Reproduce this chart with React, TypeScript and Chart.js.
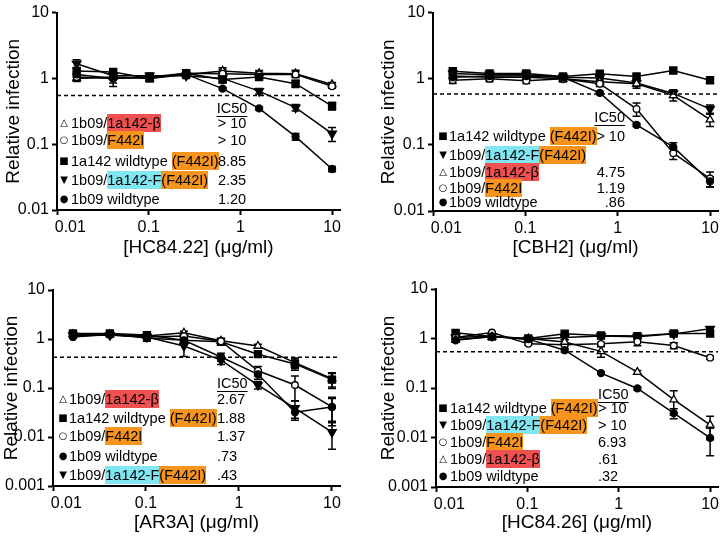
import React, { useEffect, useRef } from 'react';
import { Chart, registerables } from 'chart.js';

Chart.register(...registerables);

// ---------- data ----------
const doses = [0.016384, 0.04096, 0.1024, 0.256, 0.64, 1.6, 4, 10];
const xTickValues = [0.01, 0.1, 1, 10];
const yTicksA = [0.01, 0.1, 1, 10];
const yTicksB = [0.001, 0.01, 0.1, 1, 10];
const xMin = 0.01;
const xMax = 12.2;
const thresholds = [0.55, 0.59, 0.425, 0.54];
const xTitles = ['[HC84.22] (μg/ml)', '[CBH2] (μg/ml)', '[AR3A] (μg/ml)', '[HC84.26] (μg/ml)'];

// Panel 1: HC84.22
const hc8422Beta = [1.0, 1.05, 1.0, 1.15, 1.3, 1.2, 1.18, 0.81];
const hc8422BetaErr = [0.1, 0.1, 0.08, 0.1, 0.15, 0.12, 0.15, 0.06];
const hc8422F442i = [1.05, 1.0, 1.05, 1.2, 1.18, 1.15, 1.15, 0.76];
const hc8422F442iErr = [0.1, 0.15, 0.15, 0.1, 0.2, 0.15, 0.12, 0.05];
const hc8422Wt1a142 = [1.3, 1.25, 1.0, 1.2, 0.96, 1.05, 0.83, 0.38];
const hc8422Wt1a142Err = [0.15, 0.1, 0.1, 0.1, 0.1, 0.1, 0.1, 0.05];
const hc8422FF442i = [1.67, 1.1, 1.1, 1.1, 1.0, 0.64, 0.36, 0.145];
const hc8422FF442iErr = [0.25, 0.1, 0.1, 0.1, 0.1, 0.06, 0.04, 0.035];
const hc8422Wt1b09 = [1.15, 1.0, 1.05, 1.15, 0.7, 0.35, 0.13, 0.042];
const hc8422Wt1b09Err = [0.1, 0.25, 0.1, 0.1, 0.03, 0.02, 0.015, 0.004];
const hc8422Order = ['beta', 'f442i', 'wt1a142', 'fF442i', 'wt1b09'];
const hc8422Ic50 = ['> 10', '> 10', '8.85', '2.35', '1.20'];

// Panel 2: CBH2
const cbh2Wt1a142 = [1.3, 1.2, 1.2, 1.08, 1.19, 1.08, 1.33, 0.95];
const cbh2Wt1a142Err = [0.12, 0.08, 0.1, 0.08, 0.1, 0.08, 0.12, 0.04];
const cbh2FF442i = [1.2, 1.15, 1.15, 1.05, 1.03, 0.86, 0.6, 0.35];
const cbh2FF442iErr = [0.1, 0.1, 0.1, 0.1, 0.1, 0.1, 0.08, 0.05];
const cbh2Beta = [1.1, 1.05, 1.05, 1.0, 0.9, 0.84, 0.56, 0.24];
const cbh2BetaErr = [0.1, 0.1, 0.1, 0.1, 0.08, 0.12, 0.1, 0.05];
const cbh2F442i = [0.95, 1.0, 0.93, 1.0, 0.84, 0.35, 0.075, 0.031];
const cbh2F442iErr = [0.1, 0.1, 0.08, 0.1, 0.08, 0.08, 0.015, 0.008];
const cbh2Wt1b09 = [1.05, 1.1, 1.1, 1.05, 0.61, 0.2, 0.093, 0.028];
const cbh2Wt1b09Err = [0.08, 0.1, 0.08, 0.08, 0.03, 0.01, 0.015, 0.005];
const cbh2Order = ['wt1a142', 'fF442i', 'beta', 'f442i', 'wt1b09'];
const cbh2Ic50 = ['> 10', '', '4.75', '1.19', '.86'];

// Panel 3: AR3A
const ar3aBeta = [1.25, 1.25, 1.15, 1.34, 0.92, 0.72, 0.33, 0.155];
const ar3aBetaErr = [0.08, 0.08, 0.1, 0.1, 0.1, 0.06, 0.08, 0.05];
const ar3aWt1a142 = [1.3, 1.3, 1.2, 0.94, 0.88, 0.49, 0.31, 0.148];
const ar3aWt1a142Err = [0.1, 0.08, 0.1, 0.1, 0.1, 0.05, 0.08, 0.05];
const ar3aF442i = [1.15, 1.2, 1.1, 1.15, 0.9, 0.225, 0.115, 0.041];
const ar3aF442iErr = [0.08, 0.08, 0.1, 0.12, 0.1, 0.05, 0.06, 0.024];
const ar3aWt1b09 = [1.1, 1.25, 1.05, 0.94, 0.43, 0.19, 0.032, 0.041];
const ar3aWt1b09Err = [0.08, 0.08, 0.15, 0.1, 0.08, 0.04, 0.01, 0.02];
const ar3aFF442i = [1.2, 1.2, 1.1, 0.72, 0.37, 0.115, 0.039, 0.0126];
const ar3aFF442iErr = [0.08, 0.08, 0.15, 0.28, 0.07, 0.02, 0.015, 0.007];
const ar3aOrder = ['beta', 'wt1a142', 'f442i', 'wt1b09', 'fF442i'];
const ar3aIc50 = ['2.67', '1.88', '1.37', '.73', '.43'];

// Panel 4: HC84.26
const hc8426Wt1a142 = [1.3, 1.1, 1.0, 1.25, 1.15, 1.12, 1.26, 1.26];
const hc8426Wt1a142Err = [0.12, 0.08, 0.08, 0.1, 0.08, 0.08, 0.1, 0.15];
const hc8426FF442i = [1.05, 1.12, 0.95, 1.05, 1.12, 1.08, 1.24, 1.57];
const hc8426FF442iErr = [0.08, 0.08, 0.08, 0.1, 0.1, 0.08, 0.1, 0.15];
const hc8426F442i = [1.05, 1.32, 0.78, 0.75, 0.78, 0.86, 0.72, 0.41];
const hc8426F442iErr = [0.08, 0.05, 0.05, 0.05, 0.05, 0.15, 0.1, 0.03];
const hc8426Beta = [0.95, 1.08, 1.0, 0.85, 0.55, 0.21, 0.058, 0.018];
const hc8426BetaErr = [0.08, 0.08, 0.08, 0.08, 0.13, 0.015, 0.03, 0.009];
const hc8426Wt1b09 = [0.92, 1.1, 0.97, 0.58, 0.2, 0.098, 0.031, 0.0098];
const hc8426Wt1b09Err = [0.08, 0.08, 0.08, 0.05, 0.01, 0.008, 0.007, 0.0055];
const hc8426Order = ['wt1a142', 'fF442i', 'f442i', 'beta', 'wt1b09'];
const hc8426Ic50 = ['> 10', '> 10', '6.93', '.61', '.32'];

// ---------- styles ----------
const FONT = "'Liberation Sans', Arial, Helvetica, sans-serif";
const RED = '#EF5050';
const ORANGE = '#F7941E';
const CYAN = '#80E6F2';
const PW = 363;
const PH = 273;

type Key = 'beta' | 'f442i' | 'wt1a142' | 'fF442i' | 'wt1b09';

const markers: Record<Key, any> = {
  beta: { style: 'triangle', rot: 0, filled: false, r: 4.5, glyph: '△' },
  f442i: { style: 'circle', rot: 0, filled: false, r: 3.3, glyph: '○' },
  wt1a142: { style: 'rect', rot: 0, filled: true, r: 5, glyph: '■' },
  fF442i: { style: 'triangle', rot: 180, filled: true, r: 5, glyph: '▼' },
  wt1b09: { style: 'circle', rot: 0, filled: true, r: 3.5, glyph: '●' },
};

const labels: Record<Key, { t: string; bg?: string }[]> = {
  beta: [{ t: '1b09/' }, { t: '1a142-β', bg: RED }],
  f442i: [{ t: '1b09/' }, { t: 'F442I', bg: ORANGE }],
  wt1a142: [{ t: '1a142 wildtype ' }, { t: '(F442I)', bg: ORANGE }],
  fF442i: [{ t: '1b09/' }, { t: '1a142-F', bg: CYAN }, { t: '(F442I)', bg: ORANGE }],
  wt1b09: [{ t: '1b09 wildtype' }],
};

const panels = [
  {
    series: {
      beta: [hc8422Beta, hc8422BetaErr], f442i: [hc8422F442i, hc8422F442iErr],
      wt1a142: [hc8422Wt1a142, hc8422Wt1a142Err], fF442i: [hc8422FF442i, hc8422FF442iErr],
      wt1b09: [hc8422Wt1b09, hc8422Wt1b09Err],
    },
    order: hc8422Order, ic50: hc8422Ic50, yTicks: yTicksA,
    geom: { left: 57, right: 340, top: 12, bottom: 210, yTitleC: 13.3, xTitleC: 248 },
    leg: { mx: 64, tx: 71, rows: [123, 140, 161, 180, 199], hy: 108, cx: 232, align: 'center' },
  },
  {
    series: {
      beta: [cbh2Beta, cbh2BetaErr], f442i: [cbh2F442i, cbh2F442iErr],
      wt1a142: [cbh2Wt1a142, cbh2Wt1a142Err], fF442i: [cbh2FF442i, cbh2FF442iErr],
      wt1b09: [cbh2Wt1b09, cbh2Wt1b09Err],
    },
    order: cbh2Order, ic50: cbh2Ic50, yTicks: yTicksA,
    geom: { left: 70, right: 355, top: 12, bottom: 211, yTitleC: 25.8, xTitleC: 248 },
    leg: { mx: 80, tx: 86, rows: [136, 155, 172, 188, 202], hy: 117, cx: 262, align: 'right' },
  },
  {
    series: {
      beta: [ar3aBeta, ar3aBetaErr], f442i: [ar3aF442i, ar3aF442iErr],
      wt1a142: [ar3aWt1a142, ar3aWt1a142Err], fF442i: [ar3aFF442i, ar3aFF442iErr],
      wt1b09: [ar3aWt1b09, ar3aWt1b09Err],
    },
    order: ar3aOrder, ic50: ar3aIc50, yTicks: yTicksB,
    geom: { left: 53, right: 340, top: 17, bottom: 213, yTitleC: 11.4, xTitleC: 250 },
    leg: { mx: 63, tx: 69, rows: [126, 145, 163, 183, 202], hy: 110, cx: 217, align: 'left' },
  },
  {
    series: {
      beta: [hc8426Beta, hc8426BetaErr], f442i: [hc8426F442i, hc8426F442iErr],
      wt1a142: [hc8426Wt1a142, hc8426Wt1a142Err], fF442i: [hc8426FF442i, hc8426FF442iErr],
      wt1b09: [hc8426Wt1b09, hc8426Wt1b09Err],
    },
    order: hc8426Order, ic50: hc8426Ic50, yTicks: yTicksB,
    geom: { left: 73, right: 355, top: 16, bottom: 214, yTitleC: 26, xTitleC: 250 },
    leg: { mx: 80, tx: 87, rows: [135, 152, 169, 186, 203], hy: 121, cx: 235, align: 'left' },
  },
];

const errorBarPlugin = {
  id: 'errorBars',
  beforeDatasetsDraw(chart: any) {
    const ctx = chart.ctx;
    const xs = chart.scales.x;
    const ys = chart.scales.y;
    ctx.save();
    ctx.strokeStyle = '#000';
    ctx.lineWidth = 1.5;
    chart.data.datasets.forEach((ds: any) => {
      const errs = ds.errors;
      if (!errs) return;
      ds.data.forEach((p: any, i: number) => {
        const e = errs[i];
        if (!e) return;
        const x = xs.getPixelForValue(p.x);
        const yT = ys.getPixelForValue(p.y + e);
        const yB = ys.getPixelForValue(Math.max(p.y - e, ys.min));
        ctx.beginPath();
        ctx.moveTo(x, yT);
        ctx.lineTo(x, yB);
        ctx.moveTo(x - 4, yT);
        ctx.lineTo(x + 4, yT);
        ctx.moveTo(x - 4, yB);
        ctx.lineTo(x + 4, yB);
        ctx.stroke();
      });
    });
    ctx.restore();
  },
};

function Panel({ idx }: { idx: number }) {
  const cfg: any = panels[idx];
  const ref = useRef<HTMLCanvasElement>(null);

  useEffect(() => {
    const g = cfg.geom;
    const datasets: any[] = [
      {
        data: [{ x: xMin, y: thresholds[idx] }, { x: xMax, y: thresholds[idx] }],
        borderColor: '#000',
        borderWidth: 1.5,
        borderDash: [4, 3],
        pointRadius: 0,
        fill: false,
      },
    ];
    (cfg.order as Key[]).slice().reverse().forEach((k) => {
      const m = markers[k];
      const [vals, errs] = cfg.series[k];
      datasets.push({
        data: doses.map((x, i) => ({ x, y: vals[i] })),
        errors: errs,
        borderColor: '#000',
        borderWidth: 1.5,
        pointStyle: m.style,
        rotation: m.rot,
        pointRotation: m.rot,
        pointRadius: m.r,
        pointBackgroundColor: m.filled ? '#000' : '#fff',
        pointBorderColor: '#000',
        pointBorderWidth: 1.3,
        fill: false,
        tension: 0,
        clip: false,
      });
    });
    const tickFont = { family: FONT, size: 16 };
    const titleFont = { family: FONT, size: 19 };
    const chart = new Chart(ref.current as HTMLCanvasElement, {
      type: 'line',
      data: { datasets },
      plugins: [errorBarPlugin],
      options: {
        animation: false,
        responsive: false,
        events: [],
        layout: { padding: { left: 0, top: g.top, right: PW - g.right, bottom: 0 } },
        plugins: { legend: { display: false }, tooltip: { enabled: false } },
        scales: {
          x: {
            type: 'logarithmic',
            min: xMin,
            max: xMax,
            afterBuildTicks: (s: any) => {
              s.ticks = xTickValues.map((v) => ({ value: v }));
            },
            afterFit: (s: any) => {
              s.height = PH - g.bottom;
            },
            grid: { drawOnChartArea: false, drawTicks: true, tickLength: 5, tickWidth: 2, tickColor: '#000' },
            border: { display: true, width: 2, color: '#000' },
            ticks: {
              color: '#000',
              font: tickFont,
              padding: 3,
              maxRotation: 0,
              autoSkip: false,
              callback: (v: any, i: number) => (i === 0 ? '      0.01' : String(xTickValues[i])),
            },
            title: {
              display: true,
              text: xTitles[idx],
              color: '#000',
              font: titleFont,
              padding: { top: 0, bottom: PH - g.xTitleC - 11.4 },
            },
          },
          y: {
            type: 'logarithmic',
            min: cfg.yTicks[0],
            max: 10,
            afterBuildTicks: (s: any) => {
              s.ticks = cfg.yTicks.map((v: number) => ({ value: v }));
            },
            afterFit: (s: any) => {
              s.width = g.left;
            },
            grid: { drawOnChartArea: false, drawTicks: true, tickLength: 5, tickWidth: 2, tickColor: '#000' },
            border: { display: true, width: 2, color: '#000' },
            ticks: {
              color: '#000',
              font: tickFont,
              padding: 3,
              autoSkip: false,
              callback: (v: any, i: number) => String(cfg.yTicks[i]),
            },
            title: {
              display: true,
              text: 'Relative infection',
              color: '#000',
              font: titleFont,
              padding: { top: Math.max(0, g.yTitleC - 11.4), bottom: 0 },
            },
          },
        },
      } as any,
    });
    return () => chart.destroy();
  }, []);

  const leg = cfg.leg;
  const left = (idx % 2) * PW;
  const top = Math.floor(idx / 2) * PH;
  const colStyle = (y: number): any => {
    const base: any = { position: 'absolute', top: y - 9, height: 18, lineHeight: '18px', fontFamily: FONT, fontSize: 14.5, color: '#000', whiteSpace: 'nowrap' };
    if (leg.align === 'left') return { ...base, left: leg.cx };
    if (leg.align === 'right') return { ...base, left: leg.cx - 80, width: 80, textAlign: 'right' };
    return { ...base, left: leg.cx - 40, width: 80, textAlign: 'center' };
  };

  return (
    <div style={{ position: 'absolute', left, top, width: PW, height: PH }}>
      <canvas ref={ref} width={PW} height={PH} style={{ display: 'block', width: PW, height: PH }} />
      <div style={colStyle(leg.hy)}>
        <span style={{ textDecoration: 'underline', textUnderlineOffset: '3px' }}>IC50</span>
      </div>
      {(cfg.order as Key[]).map((k, i) => (
        <React.Fragment key={k}>
          <div
            style={{
              position: 'absolute', left: leg.mx - 7, width: 14, top: leg.rows[i] - 8, height: 16,
              lineHeight: '16px', textAlign: 'center', fontFamily: "'DejaVu Sans', sans-serif", fontSize: 10, color: '#000',
            }}
          >
            {markers[k].glyph}
          </div>
          <div
            style={{
              position: 'absolute', left: leg.tx, top: leg.rows[i] - 9, height: 18, lineHeight: '18px',
              fontFamily: FONT, fontSize: 14.5, color: '#000', whiteSpace: 'nowrap',
            }}
          >
            {labels[k].map((seg, j) => (
              <span key={j} style={seg.bg ? { background: seg.bg, padding: '1px 0' } : undefined}>
                {seg.t}
              </span>
            ))}
          </div>
          {cfg.ic50[i] ? <div style={colStyle(leg.rows[i])}>{cfg.ic50[i]}</div> : null}
        </React.Fragment>
      ))}
    </div>
  );
}

export default function App() {
  return (
    <div style={{ position: 'absolute', left: 0, top: 0, width: 726, height: 546, background: '#fff', overflow: 'hidden' }}>
      {panels.map((_, i) => (
        <Panel key={i} idx={i} />
      ))}
    </div>
  );
}
